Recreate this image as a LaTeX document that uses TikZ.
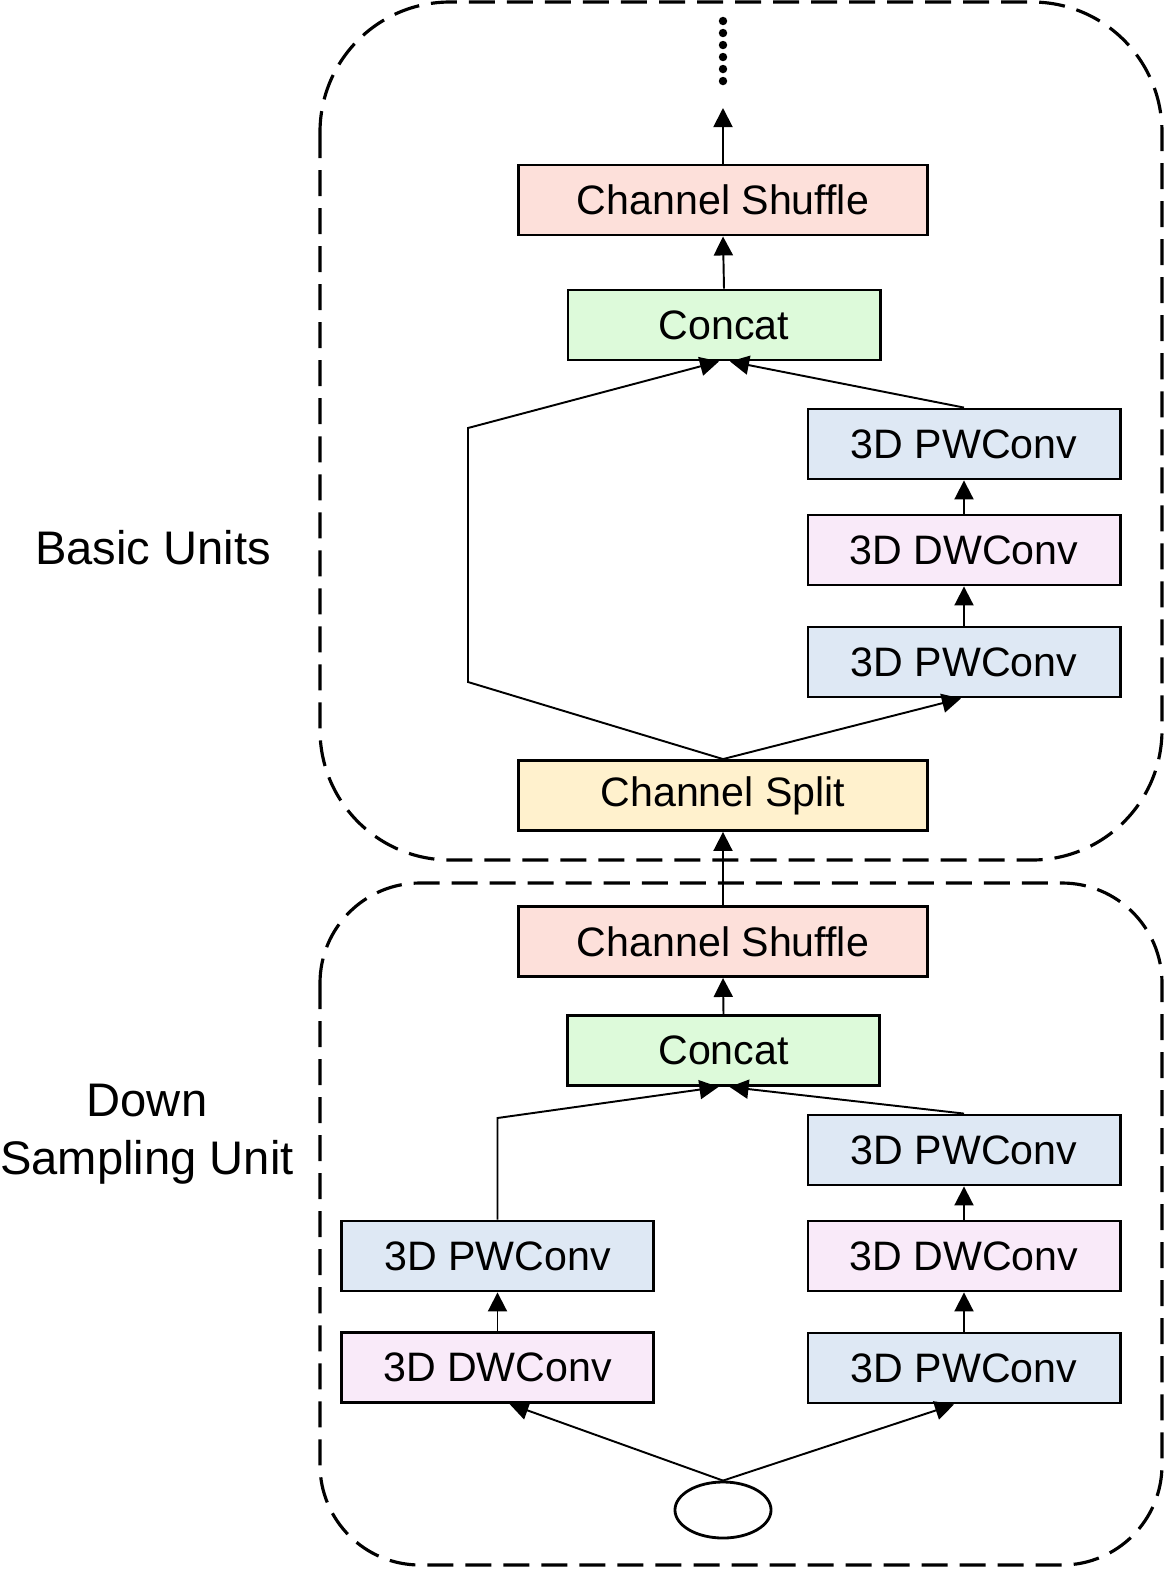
\documentclass[tikz,border=0pt]{standalone}
\usepackage{fontspec}
\setmainfont{Liberation Sans}
\usetikzlibrary{arrows.meta,shapes.geometric}
\definecolor{shufcol}{HTML}{FDE0DA}
\definecolor{catcol}{HTML}{DDFADA}
\definecolor{pwcol}{HTML}{DEE8F4}
\definecolor{dwcol}{HTML}{F9EAF9}
\definecolor{splitcol}{HTML}{FFF1CD}
\tikzset{
  blk/.style={draw, line width=0.8pt, minimum height=0.7cm, inner sep=0pt, font=\fontsize{11.7}{14}\selectfont},
  wide/.style={blk, minimum width=4.08cm},
  narrow/.style={blk, minimum width=3.12cm},
  link/.style={line width=0.55pt, -{Triangle[length=0.19cm,width=0.19cm]}},
  frame/.style={line width=0.9pt, dash pattern=on 0.26cm off 0.12cm},
  unitlabel/.style={font=\fontsize{13.4}{16.4}\selectfont, align=center}
}
\begin{document}
\begin{tikzpicture}[x=0.01cm, y=-0.01cm]
  \useasboundingbox (0,0) rectangle (1165,1569);
  \draw[frame, rounded corners=1.3cm] (320,2) rectangle (1162,860);
  \draw[frame, rounded corners=1.0cm] (320,883) rectangle (1162,1565);
  \node[unitlabel] (basic) at (153,548) {Basic Units};
  \node[unitlabel] (down) at (147,1134) {Down\\Sampling Unit};

  \node[wide, fill=shufcol] (shufA) at (723,200) {Channel Shuffle};
  \node[narrow, fill=catcol] (catA) at (724,325) {Concat};
  \node[narrow, fill=pwcol] (pwA) at (964,444) {3D PWConv};
  \node[narrow, fill=dwcol] (dwA) at (964,550) {3D DWConv};
  \node[narrow, fill=pwcol] (pwAA) at (964,662) {3D PWConv};
  \node[wide, fill=splitcol] (split) at (723,795.5) {Channel Split};

  \node[wide, fill=shufcol] (shufB) at (723,941.5) {Channel Shuffle};
  \node[narrow, fill=catcol] (catB) at (723.5,1050.5) {Concat};
  \node[narrow, fill=pwcol] (pwB) at (964,1150) {3D PWConv};
  \node[narrow, fill=dwcol] (dwB) at (964,1256) {3D DWConv};
  \node[narrow, fill=pwcol] (pwBB) at (964,1368) {3D PWConv};
  \node[narrow, fill=pwcol] (pwL) at (497.5,1256) {3D PWConv};
  \node[narrow, fill=dwcol] (dwL) at (497.5,1367.5) {3D DWConv};
  \node[draw, ellipse, line width=0.8pt, minimum width=0.96cm, minimum height=0.56cm, inner sep=0pt] (input) at (723,1510) {};

  \coordinate (more) at (723,108);
  \coordinate (skipB) at (468,682);
  \coordinate (skipT) at (468,428);
  \coordinate (sideL) at (497.5,1118);

  \draw[line width=2.4pt, line cap=round, dash pattern=on 0pt off 0.12cm] (723,21) -- (723,82);
  \draw[link] (shufA.north) -- (more);
  \draw[link] (catA.north) -- (shufA.south);
  \draw[link] (split.north) -- (skipB) -- (skipT) -- ([xshift=-0.05cm]catA.south);
  \draw[link] (split.north) -- ([xshift=-0.03cm]pwAA.south);
  \draw[link] (pwAA.north) -- (dwA.south);
  \draw[link] (dwA.north) -- (pwA.south);
  \draw[link] (pwA.north) -- ([xshift=0.06cm]catA.south);

  \draw[link] (shufB.north) -- (split.south);
  \draw[link] (catB.north) -- (shufB.south);
  \draw[link] (pwL.north) -- (sideL) -- ([xshift=-0.05cm]catB.south);
  \draw[link] (pwB.north) -- ([xshift=0.06cm]catB.south);
  \draw[link] (dwL.north) -- (pwL.south);
  \draw[link] (pwBB.north) -- (dwB.south);
  \draw[link] (dwB.north) -- (pwB.south);
  \draw[link] (input.north) -- ([xshift=0.12cm]dwL.south);
  \draw[link] (input.north) -- ([xshift=-0.1cm]pwBB.south);
\end{tikzpicture}
\end{document}
